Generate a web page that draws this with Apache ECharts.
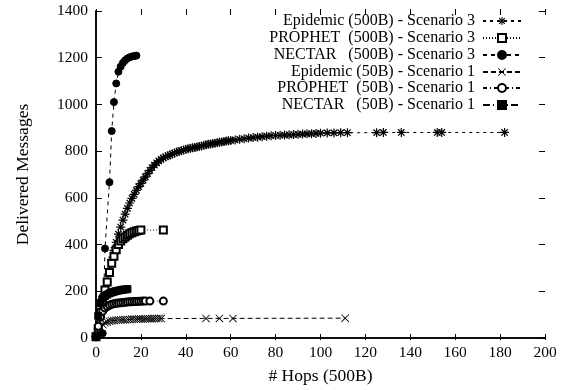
<!DOCTYPE html>
<html>
<head>
<meta charset="utf-8">
<script src="https://cdn.jsdelivr.net/npm/echarts@6/dist/echarts.min.js"></script>
<style>
html,body{margin:0;padding:0;background:#fff;}
#chart{width:565px;height:390px;}
</style>
</head>
<body>
<div id="chart"></div>
<script>
// ---- Data ----
const seriesNames = [
  'Epidemic (500B) - Scenario 3',
  'PROPHET  (500B) - Scenario 3',
  'NECTAR   (500B) - Scenario 3',
  'Epidemic (50B) - Scenario 1',
  'PROPHET  (50B) - Scenario 1',
  'NECTAR   (50B) - Scenario 1'
];

const epidemic500Hops = [0,1,2,3,4,5,6,7,8,9,10,11,12,13,14,15,16,17,18,19,20,21,22,23,24,25,26,27,28,29,30,31,32,33,34,35,36,37,38,39,40,41,42,43,44,45,46,47,48,49,50,51,52,53,54,55,56,57,58,59,60,62,64,66,68,70,72,74,76,78,80,82,84,86,88,90,92,94,96,98,100,103,106,109,112,125,128,136,152,154,182];
const epidemic500Vals = [5,40,90,140,190,240,285,335,375,410,445,475,505,530,555,578,598,615,632,648,662,676,690,704,718,730,740,750,758,765,771,776,780,784,788,792,796,799,802,805,808,810,812,814,816,818,820,822,825,827,829,831,833,834,836,838,839,841,843,844,846,848,851,853,856,858,860,862,864,866,867,868,869,870,871,872,873,874,875,876,877,878,878,879,879,879,880,880,880,880,880];

const prophet500Hops = [0,1,2,3,4,5,6,7,8,9,10,11,12,13,14,15,16,17,18,19,20,30];
const prophet500Vals = [5,40,110,160,205,240,280,320,350,378,400,415,425,432,440,446,451,455,458,460,462,462];

const nectar500Hops = [3,4,6,7,8,9,10,11,12,13,14,15,16,17,18];
const nectar500Vals = [20,383,667,886,1010,1090,1140,1162,1178,1189,1197,1202,1205,1207,1209];

const epidemic50Hops = [0,1,2,3,4,5,6,7,8,9,10,11,12,13,14,15,16,17,18,19,20,21,22,23,24,25,26,27,28,29,49,55,61,111];
const epidemic50Vals = [5,25,45,58,65,69,72,74,75,76,77,77,78,78,79,79,80,80,80,81,81,81,82,82,82,82,83,83,83,83,84,84,84,85];

const prophet50Hops = [0,1,2,3,4,5,6,7,8,9,10,11,12,13,14,15,16,17,18,19,20,21,22,24,30];
const prophet50Vals = [5,50,90,115,128,135,140,144,147,149,150,151,152,153,154,155,155,156,156,157,157,158,158,158,158];

const nectar50Hops = [0,1,2,3,4,5,6,7,8,9,10,11,12,13,14];
const nectar50Vals = [5,95,150,170,180,186,191,195,198,201,203,205,207,208,209];

const xTicks = {min:0, max:200, interval:20};
const yTicks = {min:0, max:1400, interval:200};

// ---- Styling ----
const FONT = 'Liberation Serif';
const STAR = 'path://M-0.65,-5h1.3v10h-1.3z M-5,-0.65h10v1.3h-10z M-4,-3l1,-1l7,7l-1,1z M3,-4l1,1l-7,7l-1,-1z';
const CROSS = 'path://M-5,-4.3l0.7,-0.7l9.3,9.3l-0.7,0.7z M4.3,-5l0.7,0.7l-9.3,9.3l-0.7,-0.7z';

function pairs(xs, ys){ return xs.map((x,i)=>[x, ys[i]]); }

const defs = [
  {data: pairs(epidemic500Hops, epidemic500Vals), symbol: STAR, size: 9, dash: [3,4], bw: 0},
  {data: pairs(prophet500Hops, prophet500Vals), symbol: 'emptyRect', size: 7, dash: [1,2], bw: 1},
  {data: pairs(nectar500Hops, nectar500Vals), symbol: 'circle', size: 7, dash: [4,4], bw: 1},
  {data: pairs(epidemic50Hops, epidemic50Vals), symbol: CROSS, size: 8, dash: [5,3], bw: 0},
  {data: pairs(prophet50Hops, prophet50Vals), symbol: 'emptyCircle', size: 7, dash: [4,3,1,3], bw: 1},
  {data: pairs(nectar50Hops, nectar50Vals), symbol: 'rect', size: 7, dash: [7,3,1,3], bw: 1}
];

const series = defs.map((d,i)=>({
  name: seriesNames[i],
  type: 'line',
  data: d.data,
  symbol: d.symbol,
  symbolSize: d.size,
  showAllSymbol: true,
  xAxisIndex: 0, yAxisIndex: 0,
  lineStyle: {color:'#000', width:1, type: d.dash},
  itemStyle: {color:'#000', borderColor:'#000', borderWidth: d.bw},
  emphasis: {disabled:true},
  animation: false
}));

const legendTops = [13, 30, 47, 64, 80, 97];
const legends = seriesNames.map((n,i)=>({
  data: [n],
  right: 43,
  top: legendTops[i],
  align: 'right',
  orient: 'vertical',
  itemWidth: 38,
  itemHeight: 10,
  selectedMode: false,
  padding: 0,
  textStyle: {fontFamily: FONT, fontSize: 16, color:'#000', padding:[0,3,0,0]}
}));

const GRID = {left:96, right:20, top:11, bottom:50};
const PLOT_W = 565 - GRID.left - GRID.right;
const PLOT_H = 390 - GRID.top - GRID.bottom;

const axisLabelStyle = {fontFamily: FONT, fontSize: 15.5, color:'#000', formatter: v => String(v)};
const lineCfg = {show:true, lineStyle:{color:'#000', width:1.5}};
const noTick = {show:false};
const tick = {show:true, length:6, lineStyle:{color:'#000', width:1}};

function tickOnlyX(position){
  return {type:'value', min:xTicks.min, max:xTicks.max, interval:xTicks.interval, position: position,
    offset: -PLOT_H, axisLine:{show:false, onZero:false}, axisTick: tick, axisLabel:{show:false}, splitLine:{show:false}};
}
function tickOnlyY(position){
  return {type:'value', min:yTicks.min, max:yTicks.max, interval:yTicks.interval, position: position,
    offset: -PLOT_W, axisLine:{show:false, onZero:false}, axisTick: tick, axisLabel:{show:false}, splitLine:{show:false}};
}

const option = {
  backgroundColor: '#fff',
  animation: false,
  grid: Object.assign({containLabel:false}, GRID),
  legend: legends,
  xAxis: [
    {type:'value', min:xTicks.min, max:xTicks.max, interval:xTicks.interval, position:'bottom',
     name:'# Hops (500B)', nameLocation:'middle', nameGap:29,
     nameTextStyle:{fontFamily:FONT, fontSize:17.5, color:'#000'},
     axisLine: lineCfg, axisTick: noTick,
     axisLabel: Object.assign({margin:7}, axisLabelStyle), splitLine:{show:false}},
    {type:'value', min:xTicks.min, max:xTicks.max, interval:xTicks.interval, position:'top',
     axisLine: lineCfg, axisTick: noTick,
     axisLabel:{show:false}, splitLine:{show:false}},
    tickOnlyX('top'),
    tickOnlyX('bottom')
  ],
  yAxis: [
    {type:'value', min:yTicks.min, max:yTicks.max, interval:yTicks.interval, position:'left',
     name:'Delivered Messages', nameLocation:'middle', nameGap:64,
     nameTextStyle:{fontFamily:FONT, fontSize:17.5, color:'#000'},
     axisLine: lineCfg, axisTick: noTick,
     axisLabel: Object.assign({margin:8}, axisLabelStyle), splitLine:{show:false}},
    {type:'value', min:yTicks.min, max:yTicks.max, interval:yTicks.interval, position:'right',
     axisLine: lineCfg, axisTick: noTick,
     axisLabel:{show:false}, splitLine:{show:false}},
    tickOnlyY('right'),
    tickOnlyY('left')
  ],
  series: series
};

const chart = echarts.init(document.getElementById('chart'), null, {renderer:'canvas'});
chart.setOption(option);
</script>
</body>
</html>
